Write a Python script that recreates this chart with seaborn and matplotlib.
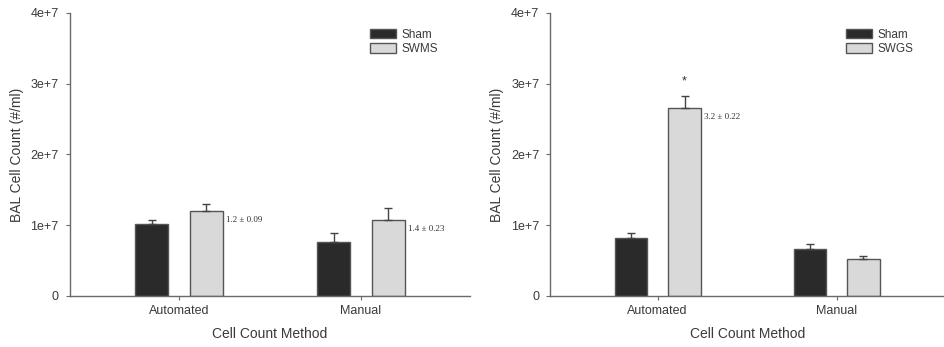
import numpy as np
import matplotlib
matplotlib.use("Agg")
import matplotlib.pyplot as plt
import pandas as pd
import seaborn as sns

# data
methods = ["Automated", "Manual"]
groups_left = ["Sham", "SWMS"]
groups_right = ["Sham", "SWGS"]

left_sham = [1.01e7, 0.765e7]
left_sham_err = [0.07e7, 0.12e7]
left_swms = [1.205e7, 1.08e7]
left_swms_err = [0.095e7, 0.17e7]

right_sham = [0.815e7, 0.668e7]
right_sham_err = [0.07e7, 0.06e7]
right_swgs = [2.65e7, 0.523e7]
right_swgs_err = [0.18e7, 0.04e7]

left_notes = ["1.2 \u00b1 0.09", "1.4 \u00b1 0.23"]
right_notes = ["3.2 \u00b1 0.22", None]
right_star = ["*", None]

yticks = [0, 1e7, 2e7, 3e7, 4e7]
ytick_labels = ["0", "1e+7", "2e+7", "3e+7", "4e+7"]

sns.set_style("white")
plt.rcParams['font.family'] = ['Liberation Sans', 'DejaVu Sans']

dark = "#2a2a2a"
light = "#d9d9d9"
axis_col = "#6a6a6a"
text_col = "#3a3a3a"


def make_df(g, a, a_err, b, b_err):
    rows = []
    for i, m in enumerate(methods):
        rows.append({"method": m, "group": g[0], "value": a[i], "err": a_err[i]})
        rows.append({"method": m, "group": g[1], "value": b[i], "err": b_err[i]})
    return pd.DataFrame(rows)


def panel(ax, df, groups, notes, stars):
    sns.barplot(data=df, x="method", y="value", hue="group", hue_order=groups,
                order=methods, palette=[dark, light], width=0.6, gap=0.4,
                edgecolor="#555555", linewidth=1.0, errorbar=None, ax=ax)
    # bars come out hue by hue, category by category
    bars = ax.patches[:len(methods) * len(groups)]
    k = 0
    for gi, g in enumerate(groups):
        sub = df[df["group"] == g].set_index("method").loc[methods]
        for mi, m in enumerate(methods):
            p = bars[k]
            k += 1
            cx = p.get_x() + p.get_width() / 2
            val = sub["value"].iloc[mi]
            err = sub["err"].iloc[mi]
            ax.errorbar(cx, val, yerr=[[0], [err]], fmt="none", ecolor="#444444",
                        elinewidth=1.0, capsize=3, capthick=1.0)
            if gi == 1 and notes[mi]:
                ax.annotate(notes[mi], (p.get_x() + p.get_width(), val),
                            xytext=(2.5, -6.5), textcoords="offset points",
                            ha="left", va="center", fontsize=6.5,
                            family=["Liberation Serif", "DejaVu Serif"], color="#333333")
            if gi == 1 and stars[mi]:
                ax.annotate(stars[mi], (cx, val + err), xytext=(0, 6),
                            textcoords="offset points", ha="center", va="bottom",
                            fontsize=9, color="#333333")

    ax.set_ylim(0, 4e7)
    ax.set_xlim(-0.6, 1.6)
    ax.set_yticks(yticks)
    ax.set_yticklabels(ytick_labels)
    ax.set_xlabel("Cell Count Method", fontsize=10, color=text_col, labelpad=7)
    ax.set_ylabel("BAL Cell Count (#/ml)", fontsize=10, color=text_col, labelpad=5)
    ax.tick_params(axis="y", pad=5)
    ax.tick_params(axis="both", labelsize=9, colors=text_col, direction="out",
                   length=3, width=0.8, color=axis_col, left=True, bottom=True)
    for s in ["top", "right"]:
        ax.spines[s].set_visible(False)
    for s in ["left", "bottom"]:
        ax.spines[s].set_color(axis_col)
        ax.spines[s].set_linewidth(1.0)
    leg = ax.legend(loc="upper left", bbox_to_anchor=(0.735, 0.965), frameon=False,
                    fontsize=8.5, handlelength=2.2, handleheight=0.9,
                    labelspacing=0.2, handletextpad=0.5, borderpad=0)
    for t in leg.get_texts():
        t.set_color(text_col)


fig = plt.figure(figsize=(9.44, 3.47), dpi=100)
ax1 = fig.add_axes([0.074, 0.147, 0.424, 0.816])
ax2 = fig.add_axes([0.583, 0.147, 0.417, 0.816])

panel(ax1, make_df(groups_left, left_sham, left_sham_err, left_swms, left_swms_err),
      groups_left, left_notes, [None, None])
panel(ax2, make_df(groups_right, right_sham, right_sham_err, right_swgs, right_swgs_err),
      groups_right, right_notes, right_star)

fig.savefig("out.png", dpi=100)
